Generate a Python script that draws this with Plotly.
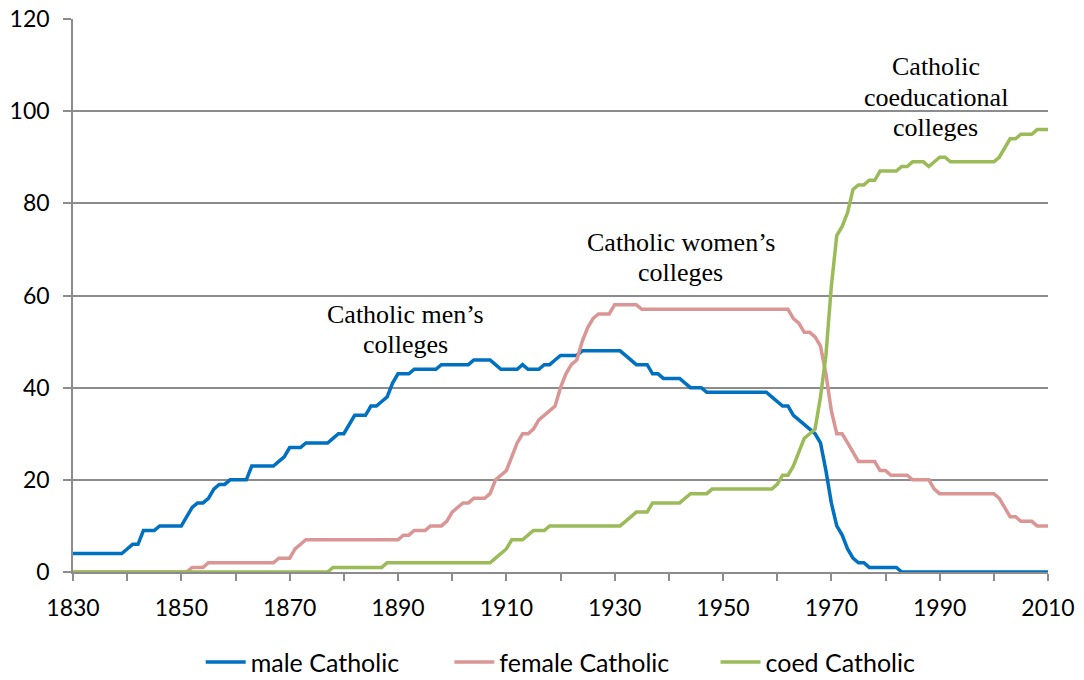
import plotly.graph_objects as go

years = list(range(1830, 2011))

male_catholic = [
    4, 4, 4, 4, 4, 4, 4, 4, 4, 4,
    5, 6, 6, 9, 9, 9, 10, 10, 10, 10,
    10, 12, 14, 15, 15, 16, 18, 19, 19, 20,
    20, 20, 20, 23, 23, 23, 23, 23, 24, 25,
    27, 27, 27, 28, 28, 28, 28, 28, 29, 30,
    30, 32, 34, 34, 34, 36, 36, 37, 38, 41,
    43, 43, 43, 44, 44, 44, 44, 44, 45, 45,
    45, 45, 45, 45, 46, 46, 46, 46, 45, 44,
    44, 44, 44, 45, 44, 44, 44, 45, 45, 46,
    47, 47, 47, 47, 48, 48, 48, 48, 48, 48,
    48, 48, 47, 46, 45, 45, 45, 43, 43, 42,
    42, 42, 42, 41, 40, 40, 40, 39, 39, 39,
    39, 39, 39, 39, 39, 39, 39, 39, 39, 38,
    37, 36, 36, 34, 33, 32, 31, 30, 28, 22,
    15, 10, 8, 5, 3, 2, 2, 1, 1, 1,
    1, 1, 1, 0, 0, 0, 0, 0, 0, 0,
    0, 0, 0, 0, 0, 0, 0, 0, 0, 0,
    0, 0, 0, 0, 0, 0, 0, 0, 0, 0,
    0,
]

female_catholic = [
    0, 0, 0, 0, 0, 0, 0, 0, 0, 0,
    0, 0, 0, 0, 0, 0, 0, 0, 0, 0,
    0, 0, 1, 1, 1, 2, 2, 2, 2, 2,
    2, 2, 2, 2, 2, 2, 2, 2, 3, 3,
    3, 5, 6, 7, 7, 7, 7, 7, 7, 7,
    7, 7, 7, 7, 7, 7, 7, 7, 7, 7,
    7, 8, 8, 9, 9, 9, 10, 10, 10, 11,
    13, 14, 15, 15, 16, 16, 16, 17, 20, 21,
    22, 25, 28, 30, 30, 31, 33, 34, 35, 36,
    40, 43, 45, 46, 50, 53, 55, 56, 56, 56,
    58, 58, 58, 58, 58, 57, 57, 57, 57, 57,
    57, 57, 57, 57, 57, 57, 57, 57, 57, 57,
    57, 57, 57, 57, 57, 57, 57, 57, 57, 57,
    57, 57, 57, 55, 54, 52, 52, 51, 49, 43,
    35, 30, 30, 28, 26, 24, 24, 24, 24, 22,
    22, 21, 21, 21, 21, 20, 20, 20, 20, 18,
    17, 17, 17, 17, 17, 17, 17, 17, 17, 17,
    17, 16, 14, 12, 12, 11, 11, 11, 10, 10,
    10,
]

coed_catholic = [
    0, 0, 0, 0, 0, 0, 0, 0, 0, 0,
    0, 0, 0, 0, 0, 0, 0, 0, 0, 0,
    0, 0, 0, 0, 0, 0, 0, 0, 0, 0,
    0, 0, 0, 0, 0, 0, 0, 0, 0, 0,
    0, 0, 0, 0, 0, 0, 0, 0, 1, 1,
    1, 1, 1, 1, 1, 1, 1, 1, 2, 2,
    2, 2, 2, 2, 2, 2, 2, 2, 2, 2,
    2, 2, 2, 2, 2, 2, 2, 2, 3, 4,
    5, 7, 7, 7, 8, 9, 9, 9, 10, 10,
    10, 10, 10, 10, 10, 10, 10, 10, 10, 10,
    10, 10, 11, 12, 13, 13, 13, 15, 15, 15,
    15, 15, 15, 16, 17, 17, 17, 17, 18, 18,
    18, 18, 18, 18, 18, 18, 18, 18, 18, 18,
    19, 21, 21, 23, 26, 29, 30, 31, 38, 47,
    62, 73, 75, 78, 83, 84, 84, 85, 85, 87,
    87, 87, 87, 88, 88, 89, 89, 89, 88, 89,
    90, 90, 89, 89, 89, 89, 89, 89, 89, 89,
    89, 90, 92, 94, 94, 95, 95, 95, 96, 96,
    96,
]

series_names = ["male Catholic", "female Catholic", "coed Catholic"]
series_colors = ["#0070C0", "#D99694", "#9BBB59"]

x_tickvals = list(range(1830, 2011, 20))
y_tickvals = list(range(0, 121, 20))

annotations_text = [
    ("Catholic men’s", 1891.3, 55.8),
    ("colleges", 1891.3, 49.3),
    ("Catholic women’s", 1942.2, 71.4),
    ("colleges", 1942.2, 64.9),
    ("Catholic", 1989.3, 109.6),
    ("coeducational", 1989.3, 102.9),
    ("colleges", 1989.3, 96.4),
]

legend_ids = ["legend", "legend2", "legend3"]
legend_x = [0.131, 0.386, 0.659]

fig = go.Figure()
for name, vals, col, lid in zip(series_names, [male_catholic, female_catholic, coed_catholic],
                                series_colors, legend_ids):
    fig.add_trace(go.Scatter(
        x=years, y=vals, name=name, mode="lines",
        line=dict(color=col, width=3.5), legend=lid,
    ))

grid_col = "#8C8C8C"
tick_font = dict(family="Lato, Open Sans, sans-serif", size=23, color="#000000")
legend_font = dict(family="Lato, Open Sans, sans-serif", size=25, color="#000000")

legend_common = dict(
    orientation="h", xanchor="left", y=-0.163, yanchor="middle",
    font=legend_font, itemwidth=40, bgcolor="rgba(0,0,0,0)",
)

# page body has an 8px margin, so the figure is sized/offset to land on the window
fig.update_layout(
    width=1076, height=672,
    margin=dict(l=65, r=36, t=11, b=108, autoexpand=False),
    paper_bgcolor="white", plot_bgcolor="white",
    showlegend=True,
    legend=dict(x=legend_x[0], **legend_common),
    legend2=dict(x=legend_x[1], **legend_common),
    legend3=dict(x=legend_x[2], **legend_common),
    xaxis=dict(
        range=[1830, 2010], tickvals=x_tickvals, automargin=False,
        ticks="outside", ticklen=7, tickcolor=grid_col, tickwidth=1.5,
        showgrid=False, showline=True, linecolor=grid_col, linewidth=1.5,
        zeroline=False, tickfont=tick_font, ticklabelstandoff=8,
        ticklabeloverflow="allow",
        minor=dict(dtick=10, tick0=1830, ticks="outside", ticklen=7,
                   tickcolor=grid_col, tickwidth=1.5, showgrid=False),
    ),
    yaxis=dict(
        range=[0, 120], tickvals=y_tickvals, automargin=False,
        ticks="outside", ticklen=8, tickcolor=grid_col, tickwidth=1.5,
        showgrid=True, gridcolor=grid_col, gridwidth=2,
        showline=True, linecolor=grid_col, linewidth=1.5,
        zeroline=False, tickfont=tick_font, ticklabelstandoff=9,
        ticklabeloverflow="allow",
    ),
)

for txt, ax, ay in annotations_text:
    fig.add_annotation(
        x=ax, y=ay, xref="x", yref="y", text=txt, showarrow=False,
        xanchor="center", yanchor="middle",
        font=dict(family="Liberation Serif, Times New Roman, serif", size=26, color="#000000"),
    )

fig.write_html("out.html")
